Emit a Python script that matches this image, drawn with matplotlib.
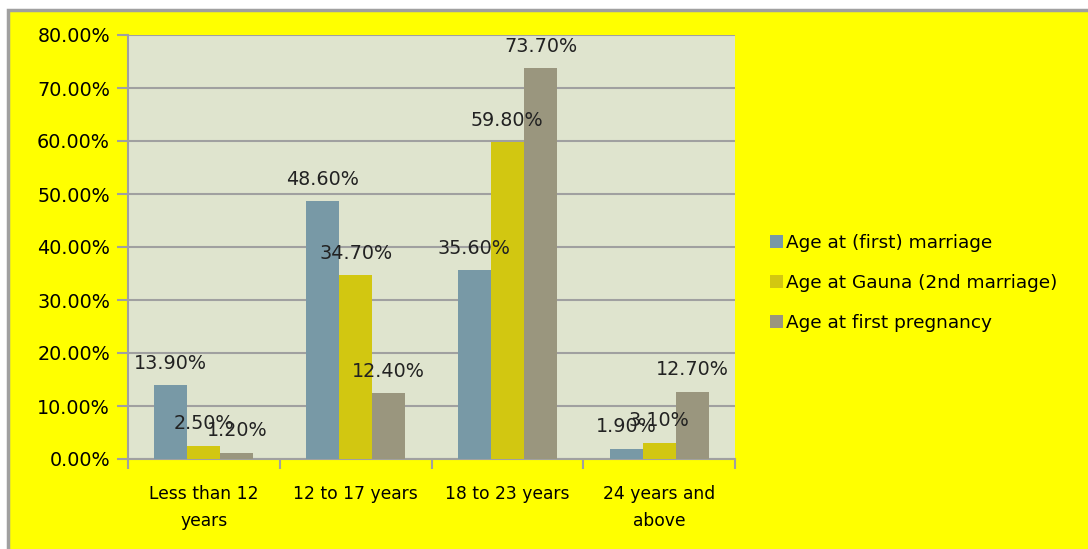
import matplotlib
matplotlib.use("Agg")
import matplotlib.pyplot as plt
import numpy as np
from matplotlib.patches import Rectangle
from matplotlib.ticker import FixedLocator, FuncFormatter

categories = ["Less than 12\nyears", "12 to 17 years", "18 to 23 years", "24 years and\nabove"]
series_names = ["Age at (first) marriage", "Age at Gauna (2nd marriage)", "Age at first pregnancy"]
first_marriage = [13.9, 48.6, 35.6, 1.9]
gauna = [2.5, 34.7, 59.8, 3.1]
first_pregnancy = [1.2, 12.4, 73.7, 12.7]
colors = ["#7899A6", "#D2C711", "#9A967E"]

plt.rcParams['font.family'] = ['DejaVu Sans']

fig = plt.figure(figsize=(10.88, 5.49), dpi=100)
fig.patch.set_facecolor("white")
fig.patches.append(Rectangle((8 / 1088, -0.05), 1.1, 1 - 10 / 549 + 0.05,
                             transform=fig.transFigure, facecolor="#FFFF00",
                             edgecolor="#A0A0A0", linewidth=2.5, zorder=-5))

ax = fig.add_axes([128 / 1088, 1 - 459 / 549, (735 - 128) / 1088, (459 - 35) / 549])
ax.set_facecolor("#DFE4CE")

x = np.arange(len(categories))
w = 0.218
data = [first_marriage, gauna, first_pregnancy]
for i, (vals, col, name) in enumerate(zip(data, colors, series_names)):
    pos = x + (i - 1) * w
    ax.bar(pos, vals, w, color=col, label=name, zorder=3)
    for p, v in zip(pos, vals):
        ax.annotate("%.2f%%" % v, (p, v), xytext=(0, 9), textcoords="offset points",
                    ha="center", va="bottom", fontsize=13.8, color="#222222", zorder=4)

ax.set_xlim(-0.5, 3.5)
ax.set_ylim(0, 80)
ax.set_yticks(np.arange(0, 81, 10))
ax.yaxis.set_major_formatter(FuncFormatter(lambda v, p: "%.2f%%" % v))
ax.yaxis.grid(True, color="#A0A0A0", linewidth=1.5, zorder=0)
ax.set_axisbelow(True)

ax.xaxis.set_major_locator(FixedLocator([-0.5, 0.5, 1.5, 2.5, 3.5]))
ax.xaxis.set_minor_locator(FixedLocator(x))
ax.set_xticklabels([])
ax.set_xticklabels(categories, minor=True, linespacing=1.65)
ax.tick_params(axis="x", which="minor", length=0, pad=19, labelsize=12.3)
ax.tick_params(axis="x", which="major", length=7, width=1.5, color="#A0A0A0", direction="out")
ax.tick_params(axis="y", length=8, width=1.5, color="#A0A0A0", labelsize=13.8, pad=5)

for s in ["top", "right"]:
    ax.spines[s].set_visible(False)
for s in ["left", "bottom"]:
    ax.spines[s].set_color("#A0A0A0")
    ax.spines[s].set_linewidth(1.5)

leg = fig.legend(loc="center left", bbox_to_anchor=(753 / 1088, 1 - 283 / 549), frameon=False,
                 fontsize=13.3, labelspacing=1.2, handlelength=0.7, handleheight=0.7,
                 handletextpad=0.2)

fig.savefig("out.png", dpi=100, facecolor=fig.get_facecolor())
